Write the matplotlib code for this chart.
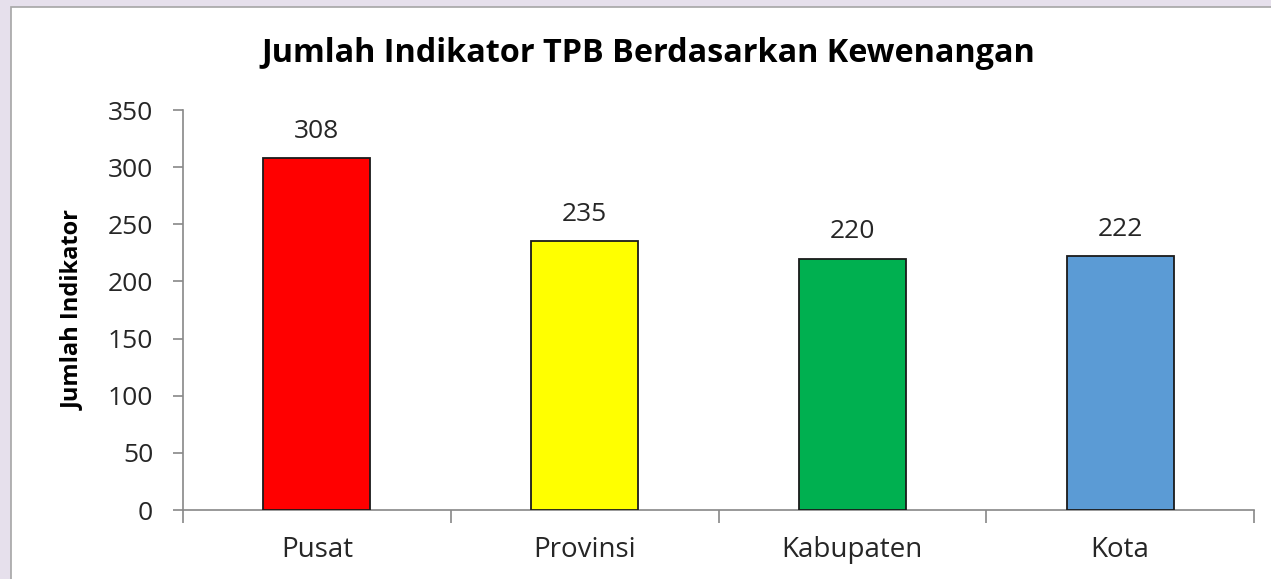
import matplotlib
matplotlib.use("Agg")
import matplotlib.pyplot as plt
from matplotlib.patches import Rectangle
import numpy as np

categories = ["Pusat", "Provinsi", "Kabupaten", "Kota"]
values = [308, 235, 220, 222]
colors = ["#FF0000", "#FFFF00", "#00B050", "#5B9BD5"]
yticks = [0, 50, 100, 150, 200, 250, 300, 350]

plt.rcParams['font.family'] = ['Open Sans', 'DejaVu Sans']

W, H = 1271, 579
fig = plt.figure(figsize=(W/100, H/100), dpi=100)
fig.patch.set_facecolor("#E6E0EC")
frame = Rectangle((11/W, -0.1), 1.2, (579-7)/H + 0.1, transform=fig.transFigure,
                  facecolor="white", edgecolor="#A6A6A6", linewidth=1.2, zorder=-5)
fig.add_artist(frame)

ax = fig.add_axes([183/W, (H-510)/H, (1254-183)/W, (510-110)/H])
ax.set_facecolor("none")
x = np.arange(len(categories))
bars = ax.bar(x, values, width=0.4, color=colors, edgecolor="#1A1A1A", linewidth=1.3, zorder=3)
for xi, v in zip(x, values):
    ax.annotate(str(v), (xi, v), xytext=(0, 14.5), textcoords="offset points",
                ha="center", va="baseline", fontsize=19, color="#262626")

ax.set_xlim(-0.5, len(categories) - 0.5)
ax.set_ylim(0, 350)
ax.set_yticks(yticks)
ax.set_yticklabels([str(t) for t in yticks], fontsize=19, color="#262626")
ax.set_xticks(x)
ax.set_xticklabels(categories, fontsize=20, color="#262626")
ax.tick_params(axis="x", length=0, pad=19)
ax.set_xticks(np.arange(len(categories) + 1) - 0.5, minor=True)
ax.tick_params(axis="x", which="minor", length=9, color="#888888", width=1.2)
ax.tick_params(axis="y", length=7.5, color="#888888", width=1.2, pad=14)
for s in ["top", "right"]:
    ax.spines[s].set_visible(False)
for s in ["left", "bottom"]:
    ax.spines[s].set_color("#888888")
    ax.spines[s].set_linewidth(1.2)

ax.set_ylabel("Jumlah Indikator", fontsize=17, fontweight="bold", color="black")
ax.yaxis.label.set_va("center")
ax.yaxis.set_label_coords((73-183)/(1254-183), 0.5)
fig.text(648/W, (H-53)/H, "Jumlah Indikator TPB Berdasarkan Kewenangan",
         ha="center", va="center", fontsize=23.3, fontweight="bold", color="black")

fig.savefig("out.png", dpi=100)
